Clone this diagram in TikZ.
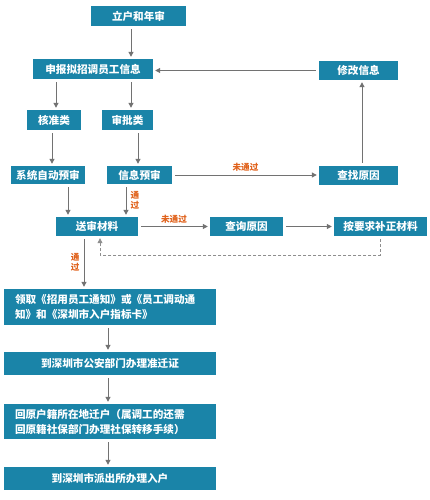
\documentclass[tikz,border=0pt]{standalone}
\usepackage{fontspec}
\setmainfont{Noto Sans CJK SC}
\usepackage{tikz}
\usetikzlibrary{arrows.meta}
\definecolor{boxblue}{HTML}{1A84A8}
\definecolor{passorange}{HTML}{E0621C}
\definecolor{linegray}{HTML}{727272}
\tikzstyle{stepbox} = [fill=boxblue, text=white, rectangle, inner sep=0pt, font=\bfseries\fontsize{10.6}{15}\selectfont]
\tikzstyle{longbox} = [stepbox, minimum width=212pt, text width=190pt, align=left]
\tikzstyle{flow} = [draw=linegray, line width=1pt, -{Triangle[width=5pt,length=5pt]}, shorten <=3pt, shorten >=2pt]
\tikzstyle{back} = [flow, draw=linegray!80, densely dashed, line width=0.8pt]
\tikzstyle{passlabel} = [text=passorange, font=\bfseries\fontsize{8.6}{10.5}\selectfont, inner sep=1pt]

\begin{document}
\begin{tikzpicture}[x=1pt, y=-1pt]
	\useasboundingbox (0,0) rectangle (429,500);
	% upper part
	\node [stepbox, minimum width=95pt, minimum height=20pt] (lihu) at (138.5,16) {立户和年审};
	\node [stepbox, minimum width=120pt, minimum height=20pt] (shenbao) at (93,69) {申报拟招调员工信息};
	\node [stepbox, minimum width=79pt, minimum height=19pt] (xiugai) at (358.5,70.5) {修改信息};
	\node [stepbox, minimum width=54pt, minimum height=20pt] (hezhun) at (54,120) {核准类};
	\node [stepbox, minimum width=51pt, minimum height=20pt] (shenpi) at (127.5,120) {审批类};
	\node [stepbox, minimum width=74pt, minimum height=18pt] (xitong) at (48,175) {系统自动预审};
	\node [stepbox, minimum width=65pt, minimum height=18pt] (xinxi) at (139.5,175) {信息预审};
	\node [stepbox, minimum width=79pt, minimum height=19pt] (chazhao) at (358.5,175.5) {查找原因};
	\node [stepbox, minimum width=82pt, minimum height=19pt] (songshen) at (97,226.5) {送审材料};
	\node [stepbox, minimum width=73pt, minimum height=19pt] (chaxun) at (246.5,226.5) {查询原因};
	\node [stepbox, minimum width=93pt, minimum height=19pt] (buzheng) at (380.5,226.5) {按要求补正材料};
	% lower part
	\node [longbox, minimum height=36pt] (lingqu) at (110,307) {领取《招用员工通知》或《员工调动通\\知》和《深圳市入户指标卡》};
	\node [stepbox, minimum width=212pt, minimum height=23pt] (gongan) at (110,363.5) {到深圳市公安部门办理准迁证};
	\node [longbox, minimum height=35pt] (huiyuan) at (110,421.5) {回原户籍所在地迁户（属调工的还需\\回原籍社保部门办理社保转移手续）};
	\node [stepbox, minimum width=212pt, minimum height=23pt] (paichu) at (110,478.5) {到深圳市派出所办理入户};

	\draw [flow] (131,0 |- lihu.south) -- (131,0 |- shenbao.north);
	\draw [flow] (xiugai.west) -- (xiugai.west -| shenbao.east);
	\draw [flow] (362,0 |- chazhao.north) -- (362,0 |- xiugai.south);
	\draw [flow] (56,0 |- shenbao.south) -- (56,0 |- hezhun.north);
	\draw [flow] (131,0 |- shenbao.south) -- (131,0 |- shenpi.north);
	\draw [flow] (52,0 |- hezhun.south) -- (52,0 |- xitong.north);
	\draw [flow] (138,0 |- shenpi.south) -- (138,0 |- xinxi.north);
	\draw [flow] (xinxi.east) -- node [passlabel, above=2pt] {未通过} (xinxi.east -| chazhao.west);
	\draw [flow] (68,0 |- xitong.south) -- (68,0 |- songshen.north);
	\draw [flow] (126,0 |- xinxi.south) -- node [passlabel, right=3pt, align=center] {通\\过} (126,0 |- songshen.north);
	\draw [flow] (songshen.east) -- node [passlabel, above=2pt] {未通过} (chaxun.west);
	\draw [flow] (chaxun.east) -- (buzheng.west);
	\draw [back] (buzheng.south) -- (380.5,255) -- (100,255) -- (100,0 |- songshen.south);
	\draw [flow] (84,0 |- songshen.south) -- node [passlabel, left=3pt, align=center] {通\\过} (84,0 |- lingqu.north);
	\draw [flow] (108,0 |- lingqu.south) -- (108,0 |- gongan.north);
	\draw [flow] (108,0 |- gongan.south) -- (108,0 |- huiyuan.north);
	\draw [flow] (108,0 |- huiyuan.south) -- (108,0 |- paichu.north);
\end{tikzpicture}
\end{document}
